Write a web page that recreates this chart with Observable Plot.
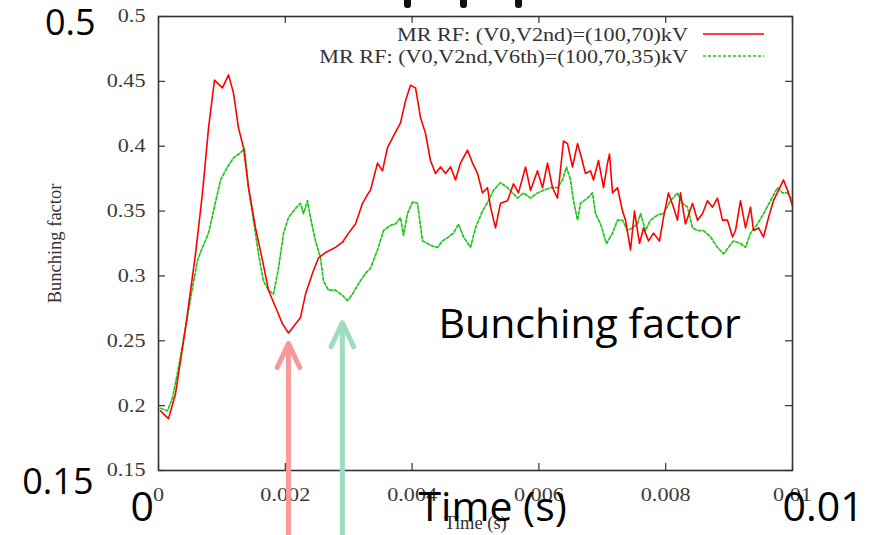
<!DOCTYPE html>
<html><head><meta charset="utf-8">
<script src="https://cdn.jsdelivr.net/npm/d3@7"></script>
<script src="https://cdn.jsdelivr.net/npm/@observablehq/plot@0.6"></script>
<style>body{margin:0;background:#fff}#wrap{position:relative;width:877px;height:535px;overflow:hidden}</style>
</head><body><div id="wrap"></div>
<script>
// ---- data (time in ms, bunching factor) ----
const redTimeMs = [0.032,0.158,0.268,0.426,0.584,0.694,0.789,0.883,1.009,1.104,
1.183,1.262,1.341,1.420,1.530,1.640,1.735,1.845,1.956,2.050,
2.161,2.240,2.319,2.429,2.524,2.634,2.792,2.902,2.997,3.107,
3.218,3.312,3.344,3.454,3.533,3.612,3.707,3.817,3.896,3.975,
4.054,4.133,4.211,4.290,4.369,4.448,4.527,4.606,4.685,4.763,
4.874,4.953,5.032,5.110,5.189,5.237,5.315,5.394,5.505,5.599,
5.678,5.789,5.868,5.978,6.057,6.136,6.215,6.293,6.388,6.451,
6.530,6.609,6.656,6.735,6.814,6.861,6.940,7.019,7.082,7.114,
7.161,7.240,7.319,7.366,7.445,7.508,7.587,7.650,7.729,7.808,
7.902,7.965,8.044,8.123,8.186,8.233,8.312,8.423,8.502,8.580,
8.659,8.738,8.817,8.896,8.975,9.054,9.101,9.180,9.259,9.338,
9.385,9.464,9.543,9.622,9.700,9.779,9.858,9.937,10.000];
const redValue = [0.196,0.190,0.209,0.260,0.317,0.364,0.414,0.451,0.445,0.455,
0.441,0.414,0.399,0.368,0.337,0.312,0.289,0.276,0.263,0.256,
0.263,0.268,0.286,0.302,0.314,0.318,0.322,0.326,0.333,0.340,
0.356,0.364,0.366,0.387,0.381,0.399,0.408,0.418,0.435,0.447,
0.445,0.422,0.410,0.389,0.379,0.384,0.379,0.384,0.374,0.387,
0.397,0.387,0.379,0.364,0.368,0.353,0.337,0.356,0.358,0.371,
0.364,0.384,0.366,0.381,0.368,0.387,0.368,0.360,0.404,0.402,
0.384,0.402,0.394,0.379,0.381,0.374,0.389,0.368,0.387,0.394,
0.364,0.368,0.350,0.343,0.320,0.350,0.325,0.337,0.327,0.333,
0.327,0.345,0.364,0.353,0.343,0.364,0.340,0.356,0.343,0.348,
0.358,0.353,0.360,0.343,0.343,0.330,0.335,0.358,0.337,0.353,
0.335,0.337,0.330,0.345,0.358,0.366,0.374,0.364,0.354];

const greenTimeMs = [0.032,0.142,0.221,0.315,0.426,0.536,0.615,0.694,0.789,0.868,
0.978,1.088,1.183,1.293,1.356,1.420,1.498,1.577,1.656,1.735,
1.814,1.893,1.972,2.050,2.161,2.240,2.287,2.350,2.397,2.476,
2.555,2.603,2.681,2.792,2.902,2.981,3.060,3.155,3.265,3.344,
3.454,3.549,3.659,3.738,3.817,3.864,3.927,4.006,4.085,4.164,
4.243,4.322,4.401,4.479,4.574,4.653,4.732,4.811,4.921,5.000,
5.110,5.205,5.284,5.394,5.505,5.584,5.662,5.757,5.868,5.978,
6.073,6.183,6.293,6.372,6.435,6.498,6.546,6.609,6.656,6.767,
6.845,6.893,6.972,7.066,7.161,7.240,7.319,7.397,7.476,7.555,
7.603,7.681,7.760,7.871,7.965,8.076,8.186,8.265,8.344,8.423,
8.502,8.596,8.707,8.817,8.912,8.991,9.069,9.180,9.259,9.338,
9.448,9.543,9.653,9.763,9.842,9.921,10.000];
const greenValue = [0.198,0.196,0.206,0.229,0.260,0.291,0.312,0.322,0.333,0.350,
0.374,0.384,0.391,0.395,0.398,0.368,0.343,0.317,0.296,0.289,
0.286,0.306,0.333,0.345,0.352,0.356,0.348,0.358,0.345,0.327,
0.314,0.296,0.289,0.289,0.285,0.281,0.286,0.294,0.302,0.306,
0.320,0.335,0.339,0.340,0.345,0.331,0.348,0.357,0.356,0.327,
0.325,0.323,0.322,0.327,0.330,0.333,0.340,0.330,0.322,0.337,
0.350,0.358,0.366,0.372,0.368,0.364,0.360,0.364,0.360,0.364,
0.366,0.368,0.368,0.374,0.384,0.374,0.358,0.343,0.356,0.360,
0.364,0.348,0.340,0.325,0.333,0.343,0.343,0.335,0.337,0.340,
0.348,0.335,0.343,0.347,0.348,0.358,0.364,0.356,0.353,0.337,
0.335,0.335,0.330,0.322,0.317,0.322,0.327,0.325,0.322,0.333,
0.340,0.348,0.358,0.368,0.364,0.364,0.358];

const seriesNames = ["MR RF: (V0,V2nd)=(100,70)kV", "MR RF: (V0,V2nd,V6th)=(100,70,35)kV"];
const xTicks = [0, 0.002, 0.004, 0.006, 0.008, 0.01];
const yTicks = [0.15, 0.2, 0.25, 0.3, 0.35, 0.4, 0.45, 0.5];
const xLabel = "Time (s)";
const yLabel = "Bunching factor";
// arrows marking the two minima (time in s, tip value)
const arrowTimes = [0.00205, 0.0029];
const arrowTips = [0.248, 0.264];
const arrowTail = 0.10;
// large annotation labels
const bigLabels = [
  {label: "0.5", x: 0, y: 0.5},
  {label: "0.15", x: 0, y: 0.15},
  {label: "0", x: 0, y: 0.15},
  {label: "0.01", x: 0.01, y: 0.15}
];

const red = redTimeMs.map((t, i) => ({t: t / 1000, v: redValue[i]}));
const green = greenTimeMs.map((t, i) => ({t: t / 1000, v: greenValue[i]}));
const arrows = arrowTimes.map((x, i) => ({x, tip: arrowTips[i], tail: arrowTail}));

const serif = "Liberation Serif, Times New Roman, serif";
const sans = "Open Sans, Noto Sans, sans-serif";
const fs = 18.5;

const chart = Plot.plot({
  width: 877, height: 535,
  marginTop: 16, marginRight: 85, marginBottom: 65, marginLeft: 158,
  x: {domain: [0, 0.01]},
  y: {domain: [0.15, 0.5]},
  style: {background: "white", color: "#333", overflow: "visible"},
  marks: [
    // inward ticks on all four sides
    Plot.ruleX(xTicks, {x: d => d, insetTop: 447, stroke: "#333", strokeWidth: 1.2}),
    Plot.ruleX(xTicks, {x: d => d, insetBottom: 447, stroke: "#333", strokeWidth: 1.2}),
    Plot.ruleY(yTicks, {y: d => d, insetRight: 627, stroke: "#333", strokeWidth: 1.2}),
    Plot.ruleY(yTicks, {y: d => d, insetLeft: 627, stroke: "#333", strokeWidth: 1.2}),
    Plot.axisX(xTicks, {tickSize: 0, tickPadding: 17, label: null, fontSize: fs, fontFamily: serif, fill: "#3a3a3a",
      tickFormat: d => String(+d.toFixed(3))}),
    Plot.axisY(yTicks, {tickSize: 0, tickPadding: 13, label: null, fontSize: fs, fontFamily: serif, fill: "#3a3a3a",
      tickFormat: d => String(+d.toFixed(2))}),
    Plot.text([yLabel], {frameAnchor: "left", dx: -103, rotate: -90, textAnchor: "middle", lineAnchor: "middle",
      text: d => d, fontSize: fs, fontFamily: serif, fill: "#333", ariaLabel: "serif"}),
    Plot.text([xLabel], {frameAnchor: "bottom", dy: 53, textAnchor: "middle", lineAnchor: "middle", text: d => d,
      fontSize: fs, fontFamily: serif, fill: "#333", ariaLabel: "serif"}),
    Plot.line(green, {x: "t", y: "v", stroke: "#1ec81e", strokeWidth: 1.7, strokeDasharray: "3,2"}),
    Plot.line(red, {x: "t", y: "v", stroke: "#ff0000", strokeWidth: 1.6}),
    Plot.frame({stroke: "#333", strokeWidth: 1.6}),
    Plot.arrow(arrows.slice(0, 1), {x1: "x", y1: "tail", x2: "x", y2: "tip", stroke: "#f99a9a",
      strokeWidth: 5, headLength: 8, headAngle: 50}),
    Plot.arrow(arrows.slice(1, 2), {x1: "x", y1: "tail", x2: "x", y2: "tip", stroke: "#9ddcbf",
      strokeWidth: 5, headLength: 8, headAngle: 50}),
    // large annotations
    Plot.text(bigLabels.slice(0, 1), {x: "x", y: "y", text: "label", textAnchor: "end", lineAnchor: "bottom",
      dx: -63, dy: 18, fontSize: 36, fontFamily: sans, fill: "#000"}),
    Plot.text(bigLabels.slice(1, 2), {x: "x", y: "y", text: "label", textAnchor: "end", lineAnchor: "bottom",
      dx: -65, dy: 23, fontSize: 36, fontFamily: sans, fill: "#000"}),
    Plot.text(bigLabels.slice(2, 3), {x: "x", y: "y", text: "label", textAnchor: "start", lineAnchor: "bottom",
      dx: -28, dy: 50, fontSize: 41, fontFamily: sans, fill: "#000"}),
    Plot.text(bigLabels.slice(3, 4), {x: "x", y: "y", text: "label", textAnchor: "start", lineAnchor: "bottom",
      dx: -10, dy: 50, fontSize: 41, fontFamily: sans, fill: "#000"}),
    Plot.text([xLabel], {frameAnchor: "bottom", text: d => d, textAnchor: "start", lineAnchor: "bottom",
      dx: -57, dy: 50, fontSize: 41, fontFamily: sans, fill: "#000"}),
    Plot.text([yLabel], {frameAnchor: "top-left", text: d => d, textAnchor: "start", lineAnchor: "bottom",
      dx: 280, dy: 321, fontSize: 41, fontFamily: sans, fill: "#000"})
  ]
});

// horizontal stretch of the serif (gnuplot-like) texts
chart.querySelectorAll('g[aria-label="x-axis tick label"] text, g[aria-label="y-axis tick label"] text, g[aria-label="serif"] text')
  .forEach(t => t.setAttribute("transform", (t.getAttribute("transform") || "") + " scale(1.2,1)"));

// legend (top right, inside the frame)
const svg = d3.select(chart);
const lg = svg.append("g").attr("font-family", serif).attr("font-size", fs).attr("fill", "#333");
const legendColors = ["#ff0000", "#1ec81e"];
const legendDash = [null, "3,2"];
seriesNames.forEach((name, i) => {
  const cy = 35 + i * 22;
  lg.append("text").attr("transform", `translate(688,${cy}) scale(1.2,1)`).attr("text-anchor", "end")
    .attr("dy", "0.32em").text(name);
  lg.append("line").attr("x1", 703).attr("x2", 764).attr("y1", cy - 1).attr("y2", cy - 1)
    .attr("stroke", legendColors[i]).attr("stroke-width", 1.7).attr("stroke-dasharray", legendDash[i]);
});
// cut-off glyph bottoms at the top edge
[404, 460, 515].forEach(x => svg.append("rect").attr("x", x).attr("y", -5).attr("width", 7).attr("height", 13)
  .attr("rx", 3).attr("fill", "#111"));

document.getElementById("wrap").appendChild(chart);
</script></body></html>
